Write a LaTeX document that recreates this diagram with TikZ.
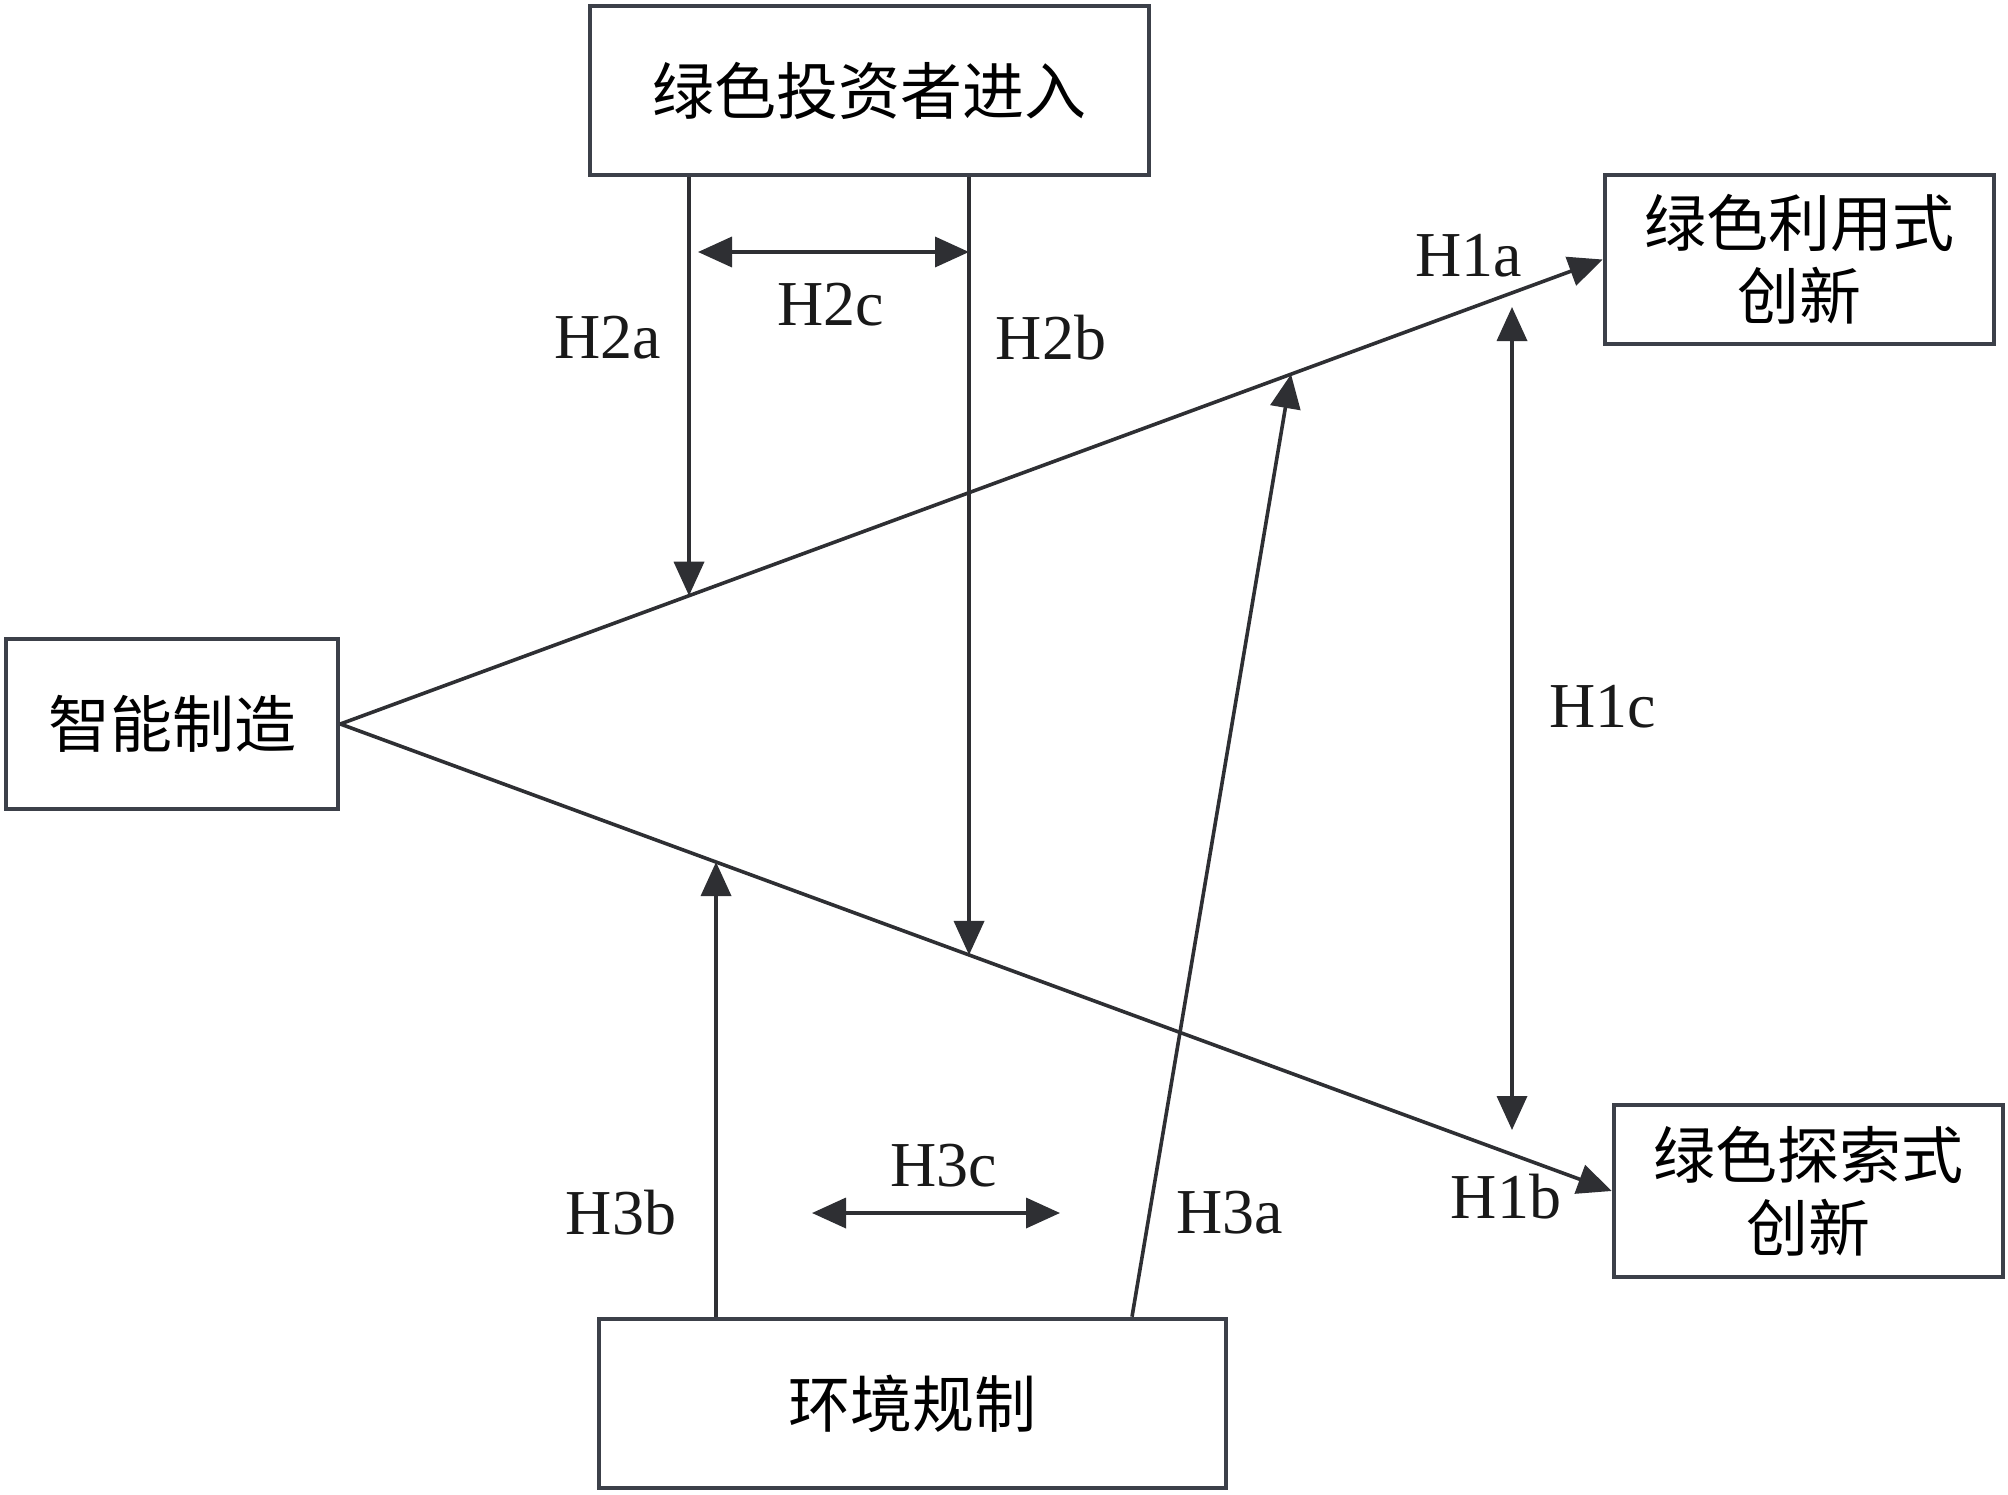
\documentclass[tikz,border=0pt]{standalone}
\usepackage{fontspec}
\setmainfont{Liberation Serif}
\newfontfamily\cjk{Noto Sans CJK SC}
\usetikzlibrary{arrows.meta}
\definecolor{ln}{HTML}{2E2F33}
\definecolor{bx}{HTML}{3C4049}
\begin{document}
\begin{tikzpicture}[x=0.5pt,y=-0.5pt,
  box/.style={draw=bx,line width=2.3pt,fill=white,inner sep=0pt,align=center,
    font=\cjk\fontsize{31}{36.5}\selectfont},
  lab/.style={font=\fontsize{32}{36}\selectfont,text=black!90},
  arr/.style={draw=ln,line width=1.8pt,-{Triangle[length=17pt,width=15pt]}},
  darr/.style={draw=ln,line width=1.8pt,{Triangle[length=17pt,width=15pt]}-{Triangle[length=17pt,width=15pt]}}]
\useasboundingbox[fill=white] (0,0) rectangle (2008,1494);
% boxes
\node[box,minimum width=279.5pt,minimum height=84.5pt] (inv) at (869.5,90.5) {绿色投资者进入};
\node[box,minimum width=166pt,minimum height=85pt] (im) at (172,724) {智能制造};
\node[box,minimum width=194.5pt,minimum height=84.5pt] (util) at (1799.5,259.5) {绿色利用式\\创新};
\node[box,minimum width=194.5pt,minimum height=86pt] (expl) at (1808.5,1191) {绿色探索式\\创新};
\node[box,minimum width=313.5pt,minimum height=84.5pt] (env) at (912.5,1403.5) {环境规制};
% main paths
\draw[arr] (im.east) -- (util.west);
\draw[arr] (im.east) -- (expl.west);
% helper coordinates on the main paths
\coordinate (a2) at (intersection of im.east--util.west and 689,0--689,1494);
\coordinate (b2) at (intersection of im.east--expl.west and 969,0--969,1494);
\coordinate (b3) at (intersection of im.east--expl.west and 716,0--716,1494);
\coordinate (a3) at (intersection of im.east--util.west and 1291,0--1291,1494);
\coordinate (a3s) at (1132,1319);
% H2
\draw[arr] (inv.south -| a2) -- (a2);
\draw[arr] (inv.south -| b2) -- (b2);
\coordinate (c2l) at (698,252);
\coordinate (c2r) at (969,252);
\draw[darr] (c2l) -- (c2r);
% H3
\draw[arr] (env.north -| b3) -- (b3);
\draw[arr] (env.north -| a3s) -- (a3);
\coordinate (c3l) at (812,1213);
\coordinate (c3r) at (1060,1213);
\draw[darr] (c3l) -- (c3r);
% H1c
\coordinate (c1t) at (1512,307);
\coordinate (c1b) at (1512,1130);
\draw[darr] (c1t) -- (c1b);
% labels
\node[lab] (l1a) at (1469,256) {H1a};
\node[lab] (l1b) at (1506,1197) {H1b};
\node[lab] (l1c) at (1603,707) {H1c};
\node[lab] (l2a) at (608,338) {H2a};
\node[lab] (l2b) at (1051,338) {H2b};
\node[lab] (l2c) at (831,305) {H2c};
\node[lab] (l3a) at (1230,1213) {H3a};
\node[lab] (l3b) at (621,1213) {H3b};
\node[lab] (l3c) at (944,1166) {H3c};
\end{tikzpicture}
\end{document}
